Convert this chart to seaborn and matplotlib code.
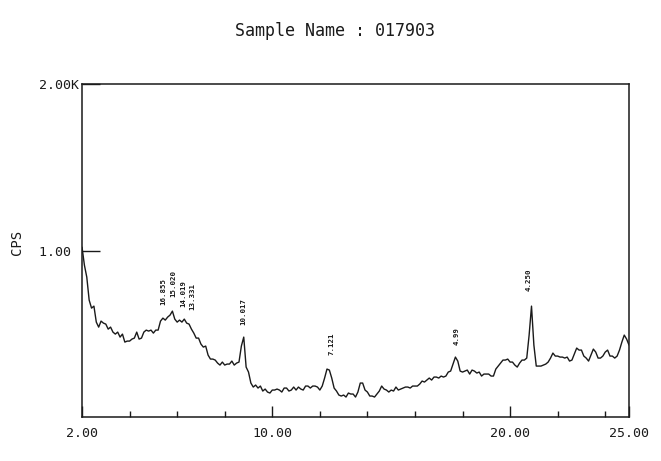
import numpy as np
import pandas as pd
import matplotlib
matplotlib.use("Agg")
import matplotlib.pyplot as plt
import seaborn as sns
from matplotlib.ticker import FixedLocator

# Diffraction scan: 2-theta (deg) and intensity (counts per second)
two_theta = [round(2.0 + 0.1 * i, 1) for i in range(231)]
cps = [
    1020, 912, 840, 702, 654, 666, 570, 540, 576, 564,
    558, 528, 540, 510, 498, 510, 480, 498, 450, 456,
    456, 468, 474, 510, 468, 474, 510, 522, 516, 522,
    504, 522, 522, 576, 594, 582, 600, 612, 636, 588,
    570, 582, 570, 588, 564, 558, 528, 504, 474, 474,
    438, 420, 426, 372, 348, 348, 342, 324, 312, 330,
    312, 318, 318, 336, 312, 324, 330, 426, 480, 300,
    270, 204, 180, 192, 174, 186, 156, 168, 150, 144,
    162, 162, 168, 162, 150, 174, 174, 156, 162, 180,
    162, 180, 168, 162, 186, 186, 174, 186, 186, 180,
    162, 186, 234, 288, 282, 234, 174, 156, 132, 126,
    132, 120, 144, 138, 138, 120, 150, 204, 204, 162,
    150, 126, 126, 120, 138, 156, 186, 168, 162, 150,
    162, 156, 180, 162, 168, 174, 180, 180, 174, 186,
    186, 186, 198, 216, 210, 222, 234, 222, 240, 240,
    234, 246, 240, 246, 270, 276, 318, 360, 336, 276,
    270, 276, 282, 258, 282, 276, 264, 270, 246, 258,
    258, 258, 246, 246, 288, 306, 324, 342, 342, 348,
    330, 330, 312, 300, 324, 342, 342, 354, 492, 666,
    432, 306, 306, 306, 312, 318, 330, 354, 384, 366,
    366, 360, 360, 354, 360, 336, 342, 378, 414, 402,
    402, 366, 354, 336, 372, 408, 390, 354, 354, 366,
    390, 402, 366, 366, 354, 366, 402, 450, 492, 468,
    432,
]

# d-spacing annotations (Angstrom) with their 2-theta position and label base height
peak_labels = ["16.855", "15.020", "14.019", "13.331", "10.017", "7.121", "4.99", "4.250"]
peak_two_theta = [5.43, 5.85, 6.25, 6.65, 8.77, 12.47, 17.77, 20.80]
peak_label_base = [672, 720, 660, 642, 552, 372, 432, 756]

x_major = [2, 10, 20, 25]
x_major_labels = ["2.00", "10.00", "20.00", "25.00"]
x_minor = [4, 6, 8, 12, 14, 16, 18, 22, 24]
y_ticks = [1000, 2000]
y_tick_labels = ["1.00 ", "2.00K"]

sns.set_theme(style="white")
plt.rcParams["font.family"] = ["DejaVu Sans Mono", "DejaVu Sans"]

fig = plt.figure(figsize=(6.61, 4.61), dpi=100)
fig.patch.set_facecolor("white")
ax = fig.add_axes([0.1241, 0.0954, 0.8275, 0.7224])
ax.set_facecolor("white")

df = pd.DataFrame({"two_theta": two_theta, "cps": cps})
sns.lineplot(data=df, x="two_theta", y="cps", ax=ax, color="#1a1a1a",
             linewidth=1.0, estimator=None, sort=True)

ax.set_xlim(2, 25)
ax.set_ylim(0, 2000)

for s in ax.spines.values():
    s.set_color("#1a1a1a")
    s.set_linewidth(1.1)
    s.set_visible(True)

ax.xaxis.set_major_locator(FixedLocator(x_major))
ax.set_xticklabels(x_major_labels)
ax.xaxis.set_minor_locator(FixedLocator(x_minor))
ax.tick_params(axis="x", which="major", direction="in", length=8, width=1.0,
               color="#1a1a1a", pad=7, labelsize=9.5, labelcolor="#1a1a1a",
               bottom=True, top=False)
ax.tick_params(axis="x", which="minor", direction="in", length=4.3, width=1.0,
               color="#1a1a1a", bottom=True, top=False)

ax.set_yticks(y_ticks)
ax.set_yticklabels(y_tick_labels)
ax.tick_params(axis="y", which="major", direction="in", length=13, width=1.0,
               color="#1a1a1a", pad=2, labelsize=9.5, labelcolor="#1a1a1a",
               left=True, right=False)

ax.set_xlabel("")
ax.set_ylabel("")
ax.text(-0.118, 0.525, "CPS", transform=ax.transAxes, rotation=90,
        ha="center", va="center", fontsize=10, color="#1a1a1a")

for lab, tt, base in zip(peak_labels, peak_two_theta, peak_label_base):
    ax.text(tt, base, lab, rotation=90, ha="center", va="bottom",
            fontsize=5.3, fontweight="bold", color="#1a1a1a")

fig.text(335 / 661, 1 - 31 / 461, "Sample Name : 017903", ha="center",
         va="center", fontsize=12, color="#1a1a1a")

fig.savefig("out.png", dpi=100)
